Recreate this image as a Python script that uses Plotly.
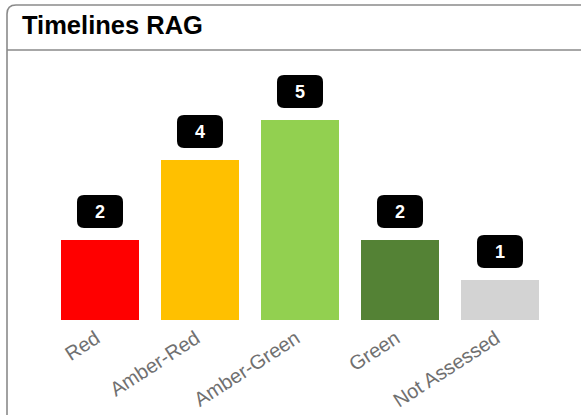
import plotly.graph_objects as go

categories = ["Red", "Amber-Red", "Amber-Green", "Green", "Not Assessed"]
values = [2, 4, 5, 2, 1]
colors = ["#FF0000", "#FFC000", "#92D050", "#548235", "#D3D3D3"]
title_text = "Timelines RAG"

W, H = 581, 415
ml, mr, mt, mb = 50, 31, 40, 95
pw, ph = W - ml - mr, H - mt - mb
ymax = ph / 40.0  # 40 px per unit

def px(x):
    return (x - ml) / pw

def py(y):
    return (H - mb - y) / ph

fig = go.Figure(go.Bar(
    x=categories, y=values, marker=dict(color=colors, line=dict(width=0)),
    width=0.78, hoverinfo="skip"))

shapes = []
# card border with rounded top-left corner
r = 9
lx, ty = 7, 5
path = (f"M {px(lx)},{py(H + 5)} L {px(lx)},{py(ty + r)} "
        f"Q {px(lx)},{py(ty)} {px(lx + r)},{py(ty)} L {px(W + 5)},{py(ty)}")
shapes.append(dict(type="path", xref="paper", yref="paper", path=path,
                   line=dict(color="#8a8a8a", width=1.6), layer="above"))
# title divider
shapes.append(dict(type="line", xref="paper", yref="paper",
                   x0=px(lx), x1=px(W + 5), y0=py(50), y1=py(50),
                   line=dict(color="#8a8a8a", width=1.6)))

# rounded label boxes
bw, bh, br, gap = 46, 33, 7, 12
annotations = []
for i, v in enumerate(values):
    x0, x1 = -bw / 2, bw / 2
    y0, y1 = gap, gap + bh
    p = (f"M {x0 + br},{y0} L {x1 - br},{y0} Q {x1},{y0} {x1},{y0 + br} "
         f"L {x1},{y1 - br} Q {x1},{y1} {x1 - br},{y1} L {x0 + br},{y1} "
         f"Q {x0},{y1} {x0},{y1 - br} L {x0},{y0 + br} Q {x0},{y0} {x0 + br},{y0} Z")
    shapes.append(dict(type="path", xref="x", yref="y", xsizemode="pixel",
                       ysizemode="pixel", xanchor=i, yanchor=v, path=p,
                       fillcolor="#000000", line=dict(width=0)))
    annotations.append(dict(x=i, y=v, xref="x", yref="y", text=f"<b>{v}</b>",
                            showarrow=False, yanchor="middle",
                            yshift=gap + bh / 2,
                            font=dict(color="white", size=18,
                                      family="Liberation Sans, Arial")))

annotations.append(dict(xref="paper", yref="paper", x=px(20), y=py(25),
                        xanchor="left", yanchor="middle", showarrow=False,
                        text=f"<b>{title_text}</b>",
                        font=dict(size=25.5, color="#000000",
                                  family="Liberation Sans, Arial")))

fig.update_layout(
    width=W, height=H,
    margin=dict(l=ml, r=mr, t=mt, b=mb, autoexpand=False),
    paper_bgcolor="white", plot_bgcolor="white",
    showlegend=False,
    shapes=shapes, annotations=annotations,
    xaxis=dict(range=[-0.5, 4.5], tickangle=-33, showgrid=False,
               showline=False, zeroline=False, ticks="", automargin=False,
               ticklabelshift=-4, ticklabelstandoff=2,
               tickfont=dict(color="#707070", size=20,
                             family="Liberation Sans, Arial")),
    yaxis=dict(range=[0, ymax], visible=False, showgrid=False, zeroline=False,
               automargin=False),
)

fig.write_html("out.html", config={"displayModeBar": False})
